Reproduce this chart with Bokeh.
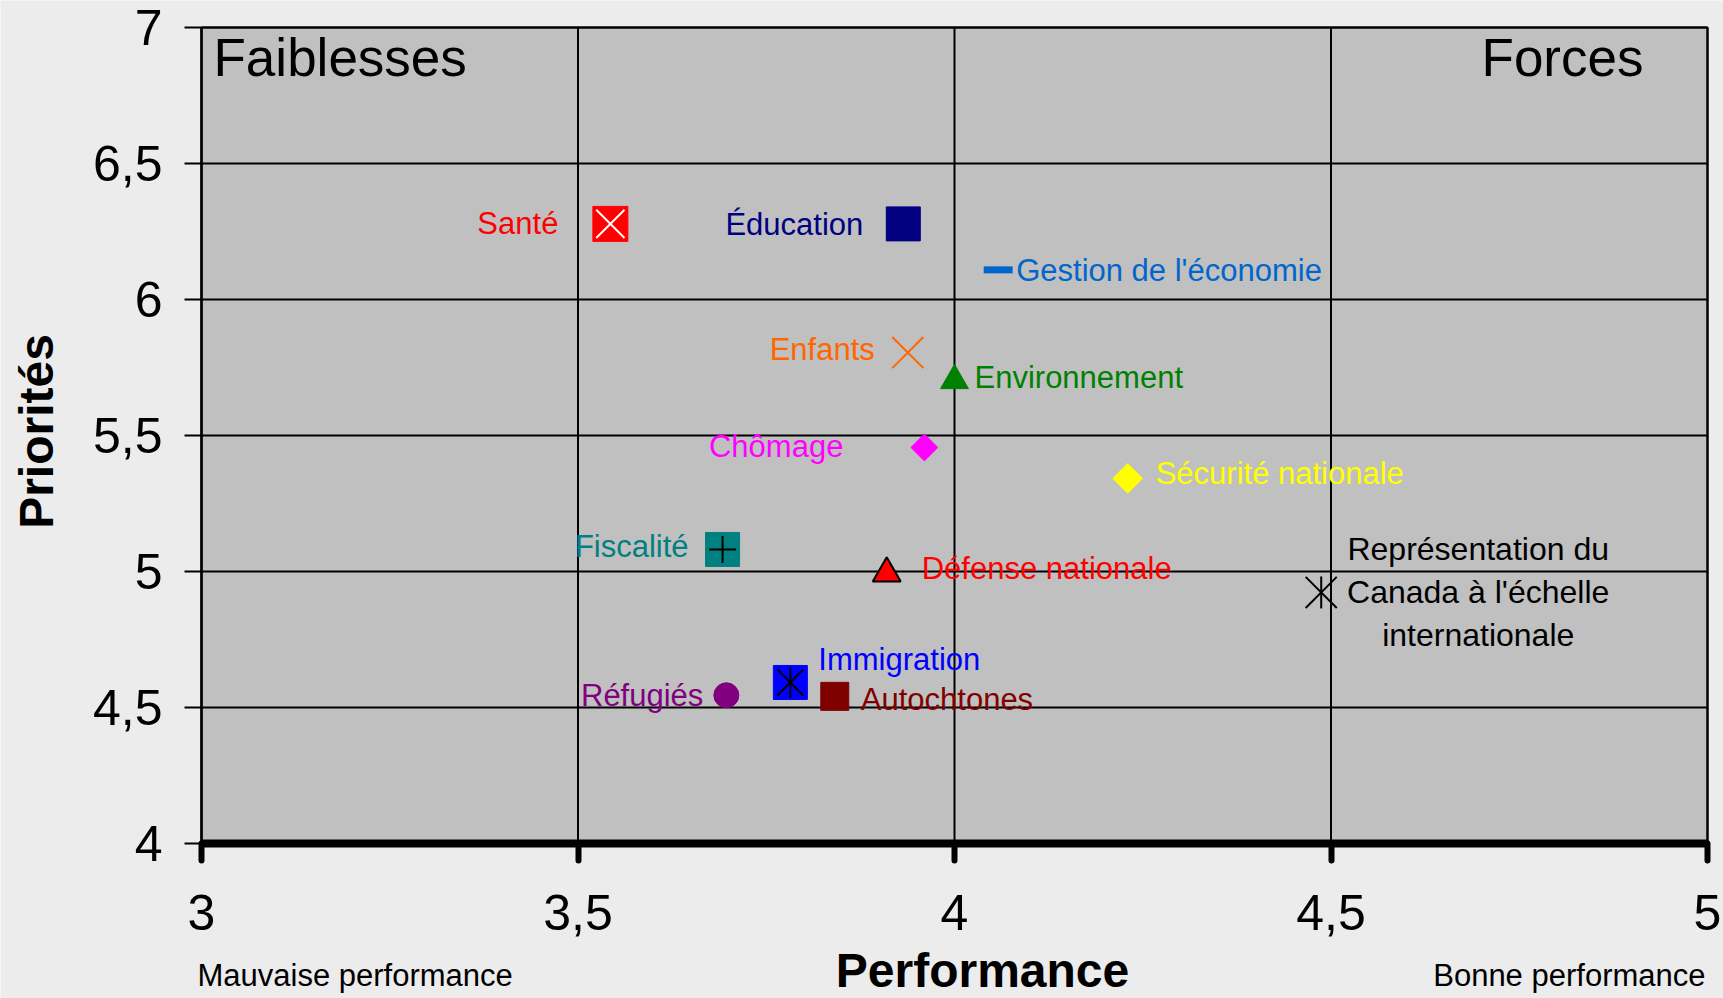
import numpy as np
from bokeh.plotting import figure
from bokeh.models import Label, FixedTicker, Range1d
from bokeh.embed import file_html
from bokeh.resources import INLINE

# ---------------- data ----------------
categories = [
    "Santé", "Éducation", "Gestion de l'économie", "Enfants", "Environnement",
    "Chômage", "Sécurité nationale", "Fiscalité", "Défense nationale",
    "Immigration", "Autochtones", "Réfugiés",
    "Représentation du Canada à l'échelle internationale",
]
performance = [3.543, 3.932, 4.058, 3.938, 4.000, 3.960, 4.230, 3.692, 3.910,
               3.782, 3.841, 3.697, 4.487]
priorites = [6.278, 6.278, 6.109, 5.805, 5.702, 5.456, 5.342, 5.081, 4.993,
             4.592, 4.541, 4.545, 4.923]

x_ticks = [3, 3.5, 4, 4.5, 5]
x_tick_labels = ["3", "3,5", "4", "4,5", "5"]
y_ticks = [4, 4.5, 5, 5.5, 6, 6.5, 7]
y_tick_labels = ["4", "4,5", "5", "5,5", "6", "6,5", "7"]

x_title = "Performance"
y_title = "Priorités"
low_note = "Mauvaise performance"
high_note = "Bonne performance"
corner_left = "Faiblesses"
corner_right = "Forces"
repr_lines = ["Représentation du", "Canada à l'échelle", "internationale"]

# ---------------- styles / layout ----------------
FONT = "Liberation Sans"
W, H = 1723, 998
FRAME = dict(left=201, right=1707, top=27, bottom=843)   # pixel box of the grey plot area
Q = np.pi / 4
# marker layers: (marker, size, fill, line, line_width, angle)
MARKERS = {
    "Santé": [("square", 35, "#FF0000", "#FF0000", 1, 0), ("x", 40, None, "#FFFFFF", 2, 0)],
    "Éducation": [("square", 34, "#000080", "#000080", 1, 0)],
    "Gestion de l'économie": [("dash", 29, None, "#0066CC", 7, 0)],
    "Enfants": [("x", 44, None, "#FF6600", 2, 0)],
    "Environnement": [("triangle", 28, "#008000", "#008000", 1, 0)],
    "Chômage": [("square", 19, "#FF00FF", "#FF00FF", 1, Q)],
    "Sécurité nationale": [("square", 21, "#FFFF00", "#FFFF00", 1, Q)],
    "Fiscalité": [("square", 34, "#008080", "#008080", 1, 0), ("cross", 27, None, "#000000", 2, 0)],
    "Défense nationale": [("triangle", 28, "#FF0000", "#000000", 2, 0)],
    "Immigration": [("square", 34, "#0000FF", "#0000FF", 1, 0), ("x", 37, None, "#000000", 2, 0),
                    ("dash", 31, None, "#000000", 2, np.pi / 2)],
    "Autochtones": [("square", 28, "#800000", "#800000", 1, 0)],
    "Réfugiés": [("circle", 25, "#800080", "#800080", 1, 0)],
    "Représentation du Canada à l'échelle internationale": [
        ("x", 44, None, "#000000", 2, 0), ("dash", 32, None, "#000000", 2, np.pi / 2)],
}
# label: (x_offset px, y_offset px (up), align, color)
LABELS = {
    "Santé": (-52, 0, "right", "#FF0000"),
    "Éducation": (-40, -1, "right", "#000080"),
    "Gestion de l'économie": (18, -1, "left", "#0066CC"),
    "Enfants": (-33, 3, "right", "#FF6600"),
    "Environnement": (20, 3, "left", "#008000"),
    "Chômage": (-81, 1, "right", "#FF00FF"),
    "Sécurité nationale": (28, 5, "left", "#FFFF00"),
    "Fiscalité": (-34, 3, "right", "#008080"),
    "Défense nationale": (35, 5, "left", "#FF0000"),
    "Immigration": (28, 23, "left", "#0000FF"),
    "Autochtones": (26, -3, "left", "#800000"),
    "Réfugiés": (-23, 0, "right", "#800080"),
}

# ranges chosen so that the whole canvas is the frame and [3,5]x[4,7] lands on FRAME
sx = (FRAME["right"] - FRAME["left"]) / (x_ticks[-1] - x_ticks[0])
sy = (FRAME["bottom"] - FRAME["top"]) / (y_ticks[-1] - y_ticks[0])
x_range = Range1d(x_ticks[0] - FRAME["left"] / sx, x_ticks[-1] + (W - FRAME["right"]) / sx)
y_range = Range1d(y_ticks[0] - (H - FRAME["bottom"]) / sy, y_ticks[-1] + FRAME["top"] / sy)

p = figure(width=W, height=H, x_range=x_range, y_range=y_range,
           output_backend="svg", toolbar_location=None, min_border=0)
p.background_fill_color = "#ECECEC"
p.border_fill_color = "#ECECEC"
p.outline_line_color = None
p.grid.visible = False

# grey plot area with frame
p.quad(left=[x_ticks[0]], right=[x_ticks[-1]], bottom=[y_ticks[0]], top=[y_ticks[-1]],
       fill_color="#C0C0C0", line_color="#000000", line_width=2)
# grid lines at the tick values
p.segment(x0=x_ticks, y0=[y_ticks[0]] * len(x_ticks), x1=x_ticks, y1=[y_ticks[-1]] * len(x_ticks),
          line_color="#000000", line_width=2)
p.segment(x0=[x_ticks[0]] * len(y_ticks), y0=y_ticks, x1=[x_ticks[-1]] * len(y_ticks), y1=y_ticks,
          line_color="#000000", line_width=2)

# axes, drawn at the edges of the grey area
p.xaxis.fixed_location = y_ticks[0]
p.xaxis.bounds = (x_ticks[0], x_ticks[-1])
p.yaxis.fixed_location = x_ticks[0]
p.yaxis.bounds = (y_ticks[0], y_ticks[-1])
for ax, ticks, labels in ((p.xaxis[0], x_ticks, x_tick_labels), (p.yaxis[0], y_ticks, y_tick_labels)):
    ax.ticker = FixedTicker(ticks=ticks)
    ax.major_label_overrides = {float(t): l for t, l in zip(ticks, labels)}
    ax.major_label_text_font = FONT
    ax.major_label_text_font_size = "50px"
    ax.major_label_text_color = "#000000"
    ax.axis_line_color = "#000000"
    ax.major_tick_line_color = "#000000"
    ax.major_tick_in = 0
    ax.major_tick_out = 17
    ax.minor_tick_line_color = None

p.xaxis.axis_line_width = 8
p.xaxis.major_tick_line_width = 6
p.xaxis.major_tick_line_cap = "round"
p.xaxis.major_label_standoff = 34
p.yaxis.axis_line_width = 2
p.yaxis.major_tick_line_width = 2
p.yaxis.major_label_standoff = 22

# markers
for i, name in enumerate(categories):
    for marker, size, fill, line, lw, ang in MARKERS[name]:
        p.scatter(x=[performance[i]], y=[priorites[i]], marker=marker, size=size,
                  fill_color=fill, line_color=line, line_width=lw, angle=ang)

# point labels
for i, name in enumerate(categories):
    if name in LABELS:
        dx, dy, align, color = LABELS[name]
        p.add_layout(Label(x=performance[i], y=priorites[i], x_offset=dx, y_offset=dy,
                           text=name, text_align=align, text_baseline="middle",
                           text_color=color, text_font=FONT, text_font_size="31px"))

ri = categories.index("Représentation du Canada à l'échelle internationale")
for k, line in enumerate(repr_lines):
    p.add_layout(Label(x=performance[ri], y=priorites[ri], x_offset=157, y_offset=43 - 43 * k,
                       text=line, text_align="center", text_baseline="middle",
                       text_color="#000000", text_font=FONT, text_font_size="32px"))

# corner titles
p.add_layout(Label(x=x_ticks[0], y=y_ticks[-1], x_offset=12, y_offset=-30, text=corner_left,
                   text_align="left", text_baseline="middle", text_color="#000000",
                   text_font=FONT, text_font_size="53px"))
p.add_layout(Label(x=x_ticks[-1], y=y_ticks[-1], x_offset=-64, y_offset=-30, text=corner_right,
                   text_align="right", text_baseline="middle", text_color="#000000",
                   text_font=FONT, text_font_size="53px"))

# axis titles and notes
p.add_layout(Label(x=x_ticks[0], y=5.5, x_offset=-165, y_offset=4, angle=np.pi / 2,
                   text=y_title, text_align="center", text_baseline="middle",
                   text_color="#000000", text_font=FONT, text_font_size="48px",
                   text_font_style="bold"))
p.add_layout(Label(x=4, y=y_ticks[0], x_offset=28, y_offset=-127, text=x_title,
                   text_align="center", text_baseline="middle", text_color="#000000",
                   text_font=FONT, text_font_size="48px", text_font_style="bold"))
p.add_layout(Label(x=x_ticks[0], y=y_ticks[0], x_offset=-4, y_offset=-132, text=low_note,
                   text_align="left", text_baseline="middle", text_color="#000000",
                   text_font=FONT, text_font_size="31px"))
p.add_layout(Label(x=x_ticks[-1], y=y_ticks[0], x_offset=-2, y_offset=-132, text=high_note,
                   text_align="right", text_baseline="middle", text_color="#000000",
                   text_font=FONT, text_font_size="31px"))

open("out.html", "w").write(file_html(p, INLINE))
